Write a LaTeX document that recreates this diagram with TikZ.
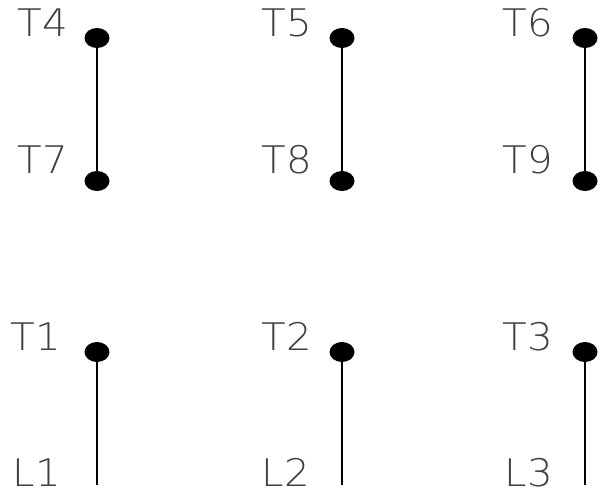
\documentclass[tikz,border=0pt]{standalone}
\usepackage{fontspec}
\newfontfamily\thinfont[FakeStretch=1.06]{DejaVu Sans ExtraLight}
\usetikzlibrary{shapes.geometric}
\begin{document}
\begin{tikzpicture}[x=1pt,y=-1pt,
    term/.style={ellipse,fill=black,inner sep=0pt,minimum width=25pt,minimum height=20pt},
    lbl/.style={font=\thinfont\fontsize{38}{38}\selectfont,text=black!75,inner sep=0pt,text depth=0pt,anchor=base east},
    wire/.style={line width=1.5pt,black}]
    \useasboundingbox (0,0) rectangle (605,493);
    % terminals
    \node[term] (T4) at (97,38) {};
    \node[term] (T5) at (342,38) {};
    \node[term] (T6) at (585,38) {};
    \node[term] (T7) at (97,181) {};
    \node[term] (T8) at (342,181) {};
    \node[term] (T9) at (585,181) {};
    \node[term] (T1) at (97,352) {};
    \node[term] (T2) at (342,352) {};
    \node[term] (T3) at (585,352) {};
    \coordinate (L1) at (97,485);
    \coordinate (L2) at (342,485);
    \coordinate (L3) at (585,485);
    % labels
    \node[lbl] (t4) at (68,36) {T4};
    \node[lbl] (t5) at (312,36) {T5};
    \node[lbl] (t6) at (553,36) {T6};
    \node[lbl] (t7) at (68,173) {T7};
    \node[lbl] (t8) at (312,173) {T8};
    \node[lbl] (t9) at (553,173) {T9};
    \node[lbl] (t1) at (61,350) {T1};
    \node[lbl] (t2) at (312,350) {T2};
    \node[lbl] (t3) at (553,350) {T3};
    \node[lbl] (l1) at (61,486) {L1};
    \node[lbl] (l2) at (310,486) {L2};
    \node[lbl] (l3) at (553,486) {L3};
    % links
    \draw[wire] (T4)--(T7);
    \draw[wire] (T5)--(T8);
    \draw[wire] (T6)--(T9);
    \draw[wire] (T1)--(L1);
    \draw[wire] (T2)--(L2);
    \draw[wire] (T3)--(L3);
\end{tikzpicture}
\end{document}
